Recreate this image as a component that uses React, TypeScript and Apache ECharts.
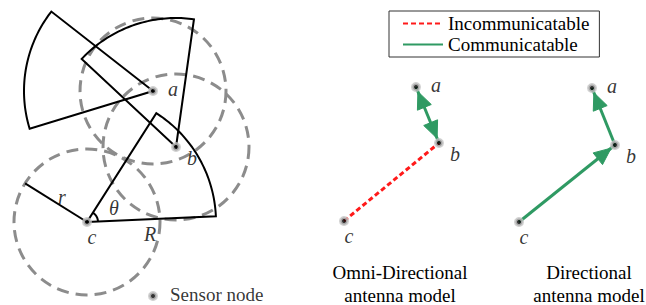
import React, { useEffect, useRef } from "react";
import * as echarts from "echarts";

// ---- data (diagram units = pixels of the 646x305 canvas, y downward) ----
const nodeNames = ["a", "b", "c"];
// left panel: sensor node positions
const leftX = [153, 176, 87];
const leftY = [91, 147, 222];
// omni-directional panel
const omniX = [416, 439, 344];
const omniY = [87, 143, 221];
// directional panel
const dirX = [592, 615, 519];
const dirY = [88, 145, 222];

const commRange = 73; // r
const antennaRange = 129; // R
const sectorStartDeg = [142, 82, 2.5];
const sectorEndDeg = [197, 137, 57.5];
const rLineDeg = 148;
const thetaArcRadius = 11;

const legendNames = ["Incommunicatable", "Communicatable"];
const captionOmni = ["Omni-Directional", "antenna model"];
const captionDir = ["Directional", "antenna model"];
const sensorLegendText = "Sensor node";
const sensorLegendPos = [153, 296];
const annotations = [
  { text: "r", x: 62, y: 197 },
  { text: "θ", x: 114, y: 208 },
  { text: "R", x: 150, y: 234 },
];

// ---- styles / layout ----
const GREEN = "#2f9a63";
const RED = "#ff1a1a";
const FONT = "'Liberation Serif', 'Times New Roman', 'DejaVu Serif', serif";
const labelOffsets: Record<string, number[]> = { a: [20, -2], b: [16, 11], c: [5, 15] };
const HEAD_LEN = 17;
const HEAD_W = 15;
const HEAD_GAP = 5;

const deg = (d: number) => (d * Math.PI) / 180;

export default function App() {
  const ref = useRef<HTMLDivElement>(null);
  useEffect(() => {
    document.body.style.margin = "0";
    const chart = echarts.init(ref.current!, null, { renderer: "svg" });

    const nodeData: any[] = [];
    const pushNodes = (xs: number[], ys: number[]) =>
      xs.forEach((x, i) =>
        nodeData.push({
          name: nodeNames[i],
          value: [x, ys[i]],
          label: { offset: labelOffsets[nodeNames[i]] },
        })
      );
    pushNodes(leftX, leftY);
    pushNodes(omniX, omniY);
    pushNodes(dirX, dirY);

    const seg = (x1: number, y1: number, x2: number, y2: number, name: string, style: any) => ({
      type: "line",
      name,
      data: [
        [x1, y1],
        [x2, y2],
      ],
      symbol: "none",
      showSymbol: false,
      z: 3,
      lineStyle: style,
      itemStyle: { color: style.color },
      silent: true,
    });

    const greenStyle = { color: GREEN, width: 3, type: "solid" };
    const redStyle = { color: RED, width: 3, type: [5, 3] };

    const cI = 2;
    const rEnd = [
      leftX[cI] + commRange * Math.cos(deg(rLineDeg)),
      leftY[cI] - commRange * Math.sin(deg(rLineDeg)),
    ];

    const textBase = { fontFamily: FONT, fill: "#000", align: "center", verticalAlign: "middle" };

    const option: any = {
      animation: false,
      textStyle: { fontFamily: FONT },
      grid: { left: 0, right: 0, top: 0, bottom: 0 },
      xAxis: { type: "value", min: 0, max: 646, show: false },
      yAxis: { type: "value", min: 0, max: 305, inverse: true, show: false },
      legend: {
        data: legendNames,
        orient: "vertical",
        left: 389,
        top: 11,
        itemWidth: 40,
        itemHeight: 14,
        itemGap: 2,
        padding: [3, 10, 3, 13],
        borderColor: "#333",
        borderWidth: 1,
        selectedMode: false,
        itemStyle: { opacity: 0, color: "rgba(0,0,0,0)", borderWidth: 0 },
        textStyle: { fontFamily: FONT, fontSize: 19, color: "#000" },
      },
      series: [
        // dashed communication range circles
        {
          type: "custom",
          silent: true,
          z: 1,
          data: leftX.map((x, i) => [x, leftY[i], commRange]),
          renderItem: (_p: any, api: any) => {
            const c = api.coord([api.value(0), api.value(1)]);
            const r = api.size([api.value(2), 0])[0];
            return {
              type: "circle",
              shape: { cx: c[0], cy: c[1], r },
              style: { fill: "none", stroke: "#8c8c8c", lineWidth: 3, lineDash: [12, 7] },
            };
          },
        },
        // antenna sectors
        {
          type: "custom",
          silent: true,
          z: 2,
          data: leftX.map((x, i) => [x, leftY[i], antennaRange, sectorStartDeg[i], sectorEndDeg[i]]),
          renderItem: (_p: any, api: any) => {
            const c = api.coord([api.value(0), api.value(1)]);
            const R = api.size([api.value(2), 0])[0];
            const a1 = deg(api.value(3));
            const a2 = deg(api.value(4));
            const pts: number[][] = [c];
            const n = 48;
            for (let k = 0; k <= n; k++) {
              const t = a1 + ((a2 - a1) * k) / n;
              pts.push([c[0] + R * Math.cos(t), c[1] - R * Math.sin(t)]);
            }
            return {
              type: "polygon",
              shape: { points: pts },
              style: { fill: "none", stroke: "#000", lineWidth: 2, lineJoin: "miter" },
            };
          },
        },
        // theta arc
        {
          type: "custom",
          silent: true,
          z: 2,
          data: [[leftX[cI], leftY[cI], thetaArcRadius, sectorStartDeg[cI], sectorEndDeg[cI]]],
          renderItem: (_p: any, api: any) => {
            const c = api.coord([api.value(0), api.value(1)]);
            const R = api.size([api.value(2), 0])[0];
            const a1 = deg(api.value(3));
            const a2 = deg(api.value(4));
            const pts: number[][] = [];
            const n = 20;
            for (let k = 0; k <= n; k++) {
              const t = a1 + ((a2 - a1) * k) / n;
              pts.push([c[0] + R * Math.cos(t), c[1] - R * Math.sin(t)]);
            }
            return {
              type: "polyline",
              shape: { points: pts },
              style: { fill: "none", stroke: "#000", lineWidth: 2 },
            };
          },
        },
        // r line
        seg(leftX[cI], leftY[cI], rEnd[0], rEnd[1], "r", { color: "#000", width: 2, type: "solid" }),
        // omni: c-b incommunicatable
        seg(omniX[2], omniY[2], omniX[1], omniY[1], legendNames[0], redStyle),
        // omni: a<->b communicatable
        seg(omniX[0], omniY[0], omniX[1], omniY[1], legendNames[1], greenStyle),
        // directional: b->a, c->b
        seg(dirX[1], dirY[1], dirX[0], dirY[0], legendNames[1], greenStyle),
        seg(dirX[2], dirY[2], dirX[1], dirY[1], legendNames[1], greenStyle),
        // arrowheads: [fromX, fromY, toX, toY]
        {
          type: "custom",
          silent: true,
          z: 4,
          data: [
            [omniX[1], omniY[1], omniX[0], omniY[0]],
            [omniX[0], omniY[0], omniX[1], omniY[1]],
            [dirX[1], dirY[1], dirX[0], dirY[0]],
            [dirX[2], dirY[2], dirX[1], dirY[1]],
          ],
          renderItem: (_p: any, api: any) => {
            const p1 = api.coord([api.value(0), api.value(1)]);
            const p2 = api.coord([api.value(2), api.value(3)]);
            const dx = p2[0] - p1[0];
            const dy = p2[1] - p1[1];
            const len = Math.hypot(dx, dy);
            const ux = dx / len;
            const uy = dy / len;
            const tip = [p2[0] - ux * HEAD_GAP, p2[1] - uy * HEAD_GAP];
            const base = [tip[0] - ux * HEAD_LEN, tip[1] - uy * HEAD_LEN];
            const px = -uy * (HEAD_W / 2);
            const py = ux * (HEAD_W / 2);
            return {
              type: "polygon",
              shape: {
                points: [tip, [base[0] + px, base[1] + py], [base[0] - px, base[1] - py]],
              },
              style: { fill: GREEN, stroke: GREEN, lineWidth: 1 },
            };
          },
        },
        // sensor nodes
        {
          type: "scatter",
          silent: true,
          z: 5,
          symbol: "circle",
          symbolSize: 7,
          itemStyle: { color: "#000", borderColor: "#c4c4c4", borderWidth: 3 },
          label: {
            show: true,
            position: "inside",
            formatter: "{b}",
            fontFamily: FONT,
            fontStyle: "italic",
            fontSize: 20,
            color: "#000",
          },
          data: nodeData,
        },
        // sensor-node key
        {
          type: "scatter",
          silent: true,
          z: 5,
          symbol: "circle",
          symbolSize: 7,
          itemStyle: { color: "#000", borderColor: "#c4c4c4", borderWidth: 3 },
          label: {
            show: true,
            position: "right",
            distance: 12,
            formatter: sensorLegendText,
            fontFamily: FONT,
            fontSize: 19,
            color: "#000",
            offset: [0, -2],
          },
          data: [{ name: sensorLegendText, value: sensorLegendPos }],
        },
        // r / theta / R annotations
        {
          type: "scatter",
          silent: true,
          z: 5,
          symbolSize: 0,
          label: {
            show: true,
            position: "inside",
            formatter: (p: any) => p.name,
            fontFamily: FONT,
            fontStyle: "italic",
            fontSize: 20,
            color: "#000",
          },
          data: annotations.map((a) => ({ name: a.text, value: [a.x, a.y] })),
        },
      ],
      graphic: [
        ...captionOmni.map((t, i) => ({
          type: "text",
          x: 400,
          y: 272 + i * 23,
          style: { ...textBase, text: t, fontSize: 19 },
        })),
        ...captionDir.map((t, i) => ({
          type: "text",
          x: 589,
          y: 272 + i * 23,
          style: { ...textBase, text: t, fontSize: 19 },
        })),
      ],
    };
    chart.setOption(option);
    return () => chart.dispose();
  }, []);
  return <div ref={ref} style={{ width: 646, height: 305, background: "#fff" }} />;
}
